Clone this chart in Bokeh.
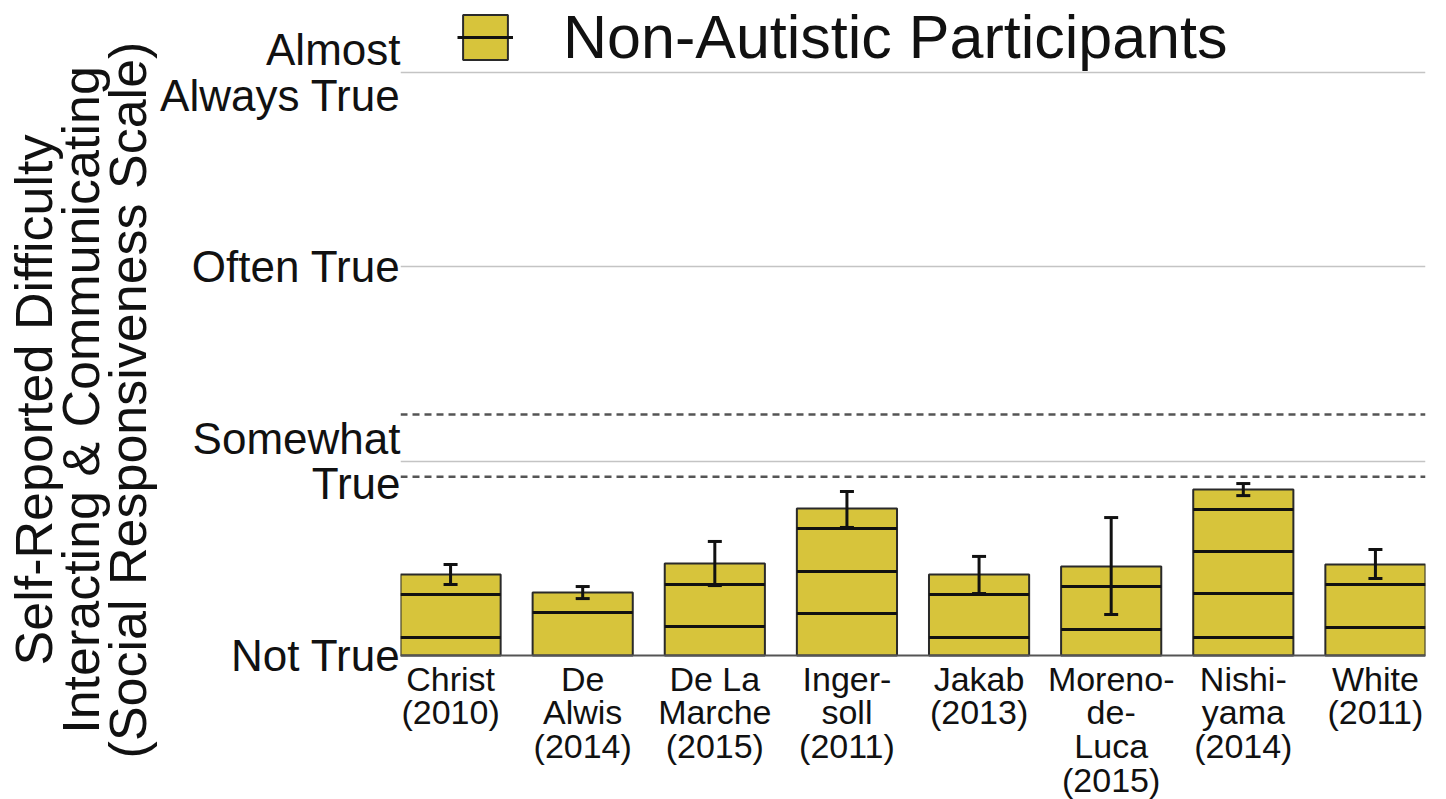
from bokeh.plotting import figure
from bokeh.models import (Range1d, FixedTicker, Span, Whisker, TeeHead, ColumnDataSource,
                          Legend, LegendItem)
from bokeh.embed import file_html
from bokeh.resources import INLINE
from bokeh.core.properties import value

# ---------------- data ----------------
studies = ["Christ\n(2010)", "De\nAlwis\n(2014)", "De La\nMarche\n(2015)", "Inger-\nsoll\n(2011)",
           "Jakab\n(2013)", "Moreno-\nde-\nLuca\n(2015)", "Nishi-\nyama\n(2014)", "White\n(2011)"]
means = [0.417, 0.324, 0.473, 0.757, 0.417, 0.458, 0.854, 0.468]
err_low = [0.365, 0.293, 0.360, 0.659, 0.319, 0.211, 0.823, 0.396]
err_high = [0.468, 0.355, 0.587, 0.844, 0.510, 0.710, 0.885, 0.546]
dividers = [[0.314, 0.093], [0.221], [0.365, 0.149], [0.654, 0.432, 0.216],
            [0.314, 0.093], [0.355, 0.134], [0.751, 0.535, 0.319, 0.093], [0.365, 0.144]]
scale_ticks = [0, 1, 2, 3]
scale_labels = ["Not True", "Somewhat\nTrue", "Often True", "Almost\nAlways True"]
threshold_lines = [1.24, 0.92]
legend_label = "Non-Autistic Participants"
y_title = "Self-Reported Difficulty\nInteracting & Communicating\n(Social Responsiveness Scale)"

# ---------------- figure ----------------
BAR_W = 0.758
HALF = BAR_W / 2
FONT = "Liberation Sans"
n = len(studies)
xs = list(range(n))

p = figure(width=1446, height=799, output_backend="svg", toolbar_location=None,
           x_range=Range1d(-HALF, n - 1 + HALF), y_range=Range1d(-0.741, 3.371),
           min_border_left=400, min_border_right=21, min_border_top=0, min_border_bottom=0)
p.outline_line_color = None
p.background_fill_color = "white"
p.border_fill_color = "white"

p.xaxis.visible = False
p.xgrid.visible = False
p.ygrid.ticker = FixedTicker(ticks=scale_ticks[1:])
p.ygrid.grid_line_color = "#c4c4c4"
p.ygrid.grid_line_width = 1.5

ax = p.yaxis[0]
ax.ticker = FixedTicker(ticks=scale_ticks)
ax.major_label_overrides = {t: l for t, l in zip(scale_ticks, scale_labels)}
ax.major_label_text_font = FONT
ax.major_label_text_font_size = "44px"
ax.major_label_text_color = "#111111"
ax.major_label_text_line_height = 0.93
ax.major_label_standoff = 0
ax.axis_line_color = None
ax.major_tick_line_color = None
ax.minor_tick_line_color = None
ax.major_tick_out = 0
ax.major_tick_in = 0
ax.axis_label = y_title
ax.axis_label_text_font = FONT
ax.axis_label_text_font_size = "52px"
ax.axis_label_text_font_style = "normal"
ax.axis_label_text_color = "#111111"
ax.axis_label_text_line_height = 0.81
ax.axis_label_standoff = 0

# baseline
p.add_layout(Span(location=scale_ticks[0], dimension="width", line_color="#555555", line_width=2))
# threshold dashed lines
for t in threshold_lines:
    p.add_layout(Span(location=t, dimension="width", line_color="#555555", line_width=2.5,
                      line_dash="7 5"))

src = ColumnDataSource(dict(x=xs, top=means, lower=err_low, upper=err_high, label=studies))
bars = p.vbar(x="x", top="top", bottom=0, width=BAR_W, source=src,
              fill_color="#d7c43b", line_color="#2a2a2a", line_width=2)

dx0, dx1, dy = [], [], []
for xi, ds in zip(xs, dividers):
    for d in ds:
        dx0.append(xi - HALF)
        dx1.append(xi + HALF)
        dy.append(d)
divs = p.segment(x0=dx0, x1=dx1, y0=dy, y1=dy, line_color="#111111", line_width=3)

p.add_layout(Whisker(source=src, base="x", lower="lower", upper="upper", line_width=3,
                     line_color="#111111", level="overlay",
                     upper_head=TeeHead(size=14, line_width=3, line_color="#111111"),
                     lower_head=TeeHead(size=14, line_width=3, line_color="#111111")))

p.text(x="x", y=0, text="label", source=src, text_align="center", text_baseline="top",
       y_offset=4, text_font=value(FONT), text_font_size="34px", text_color="#111111",
       text_line_height=0.89)

legend = Legend(items=[LegendItem(label=legend_label, renderers=[bars, divs])],
                location=(57, 727), glyph_width=56, glyph_height=56, label_standoff=50,
                label_text_font=FONT, label_text_font_size="61px", label_text_color="#111111",
                padding=0, margin=0, spacing=0, border_line_color=None,
                background_fill_alpha=0)
p.add_layout(legend)

open("out.html", "w").write(file_html(p, INLINE))
